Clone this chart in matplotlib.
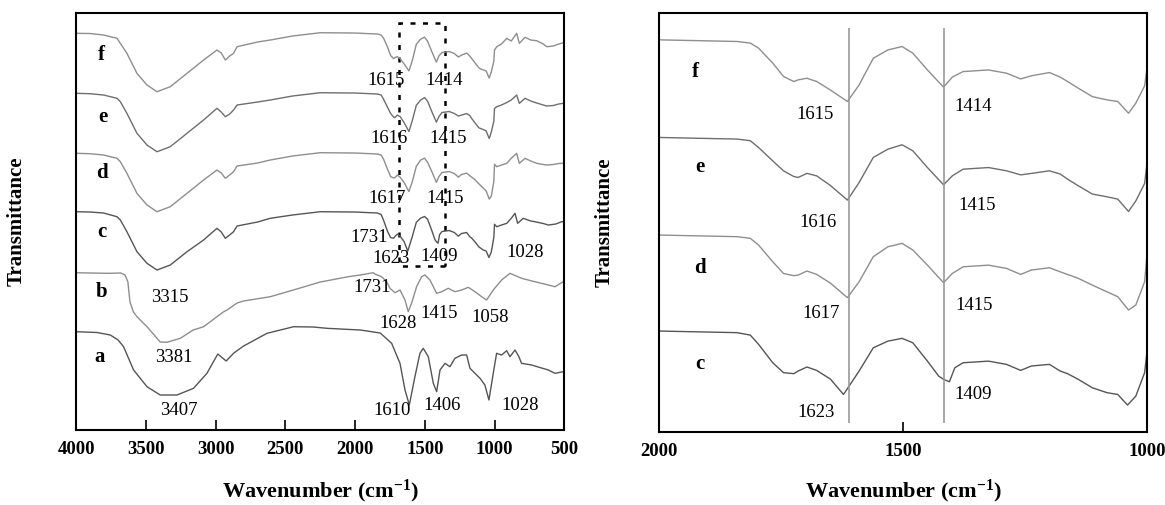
import numpy as np
import matplotlib
matplotlib.use("Agg")
import matplotlib.pyplot as plt
from matplotlib.patches import Rectangle

plt.rcParams['font.family'] = 'Liberation Serif'
plt.rcParams['mathtext.fontset'] = 'custom'
plt.rcParams['mathtext.rm'] = 'Liberation Serif'
plt.rcParams['mathtext.bf'] = 'Liberation Serif:bold'
plt.rcParams['mathtext.default'] = 'bf'

# FTIR spectra, transmittance in arbitrary (stacked) units
wn_fed = [4000, 3900, 3804, 3708, 3684, 3637, 3565, 3493, 3421, 3326,
          3206, 3087, 2991, 2960, 2931, 2900, 2872, 2847, 2700, 2609,
          2450, 2250, 2000, 1840, 1813, 1796, 1767, 1745, 1724, 1715,
          1697, 1677, 1649, 1614, 1590, 1561, 1531, 1502, 1480, 1450,
          1417, 1399, 1377, 1325, 1288, 1259, 1237, 1200, 1178, 1163,
          1141, 1112, 1082, 1060, 1038, 1023, 1005, 1000, 984, 950,
          912, 880, 841, 822, 781, 740, 697, 650, 625, 578,
          540, 506, 500]

t_f = [396.7, 396.5, 395.0, 391.7, 386.7, 376.7, 356.7, 345.0, 338.3, 343.3,
       356.7, 370.0, 380.0, 377.0, 370.0, 374.0, 376.7, 383.3, 388.0, 390.0,
       394.0, 397.3, 397.0, 396.0, 395.0, 391.9, 382.7, 374.5, 371.4, 372.4,
       373.4, 371.4, 366.2, 359.1, 369.3, 385.7, 390.8, 392.9, 388.8, 378.5,
       367.9, 374.1, 377.5, 378.5, 376.5, 373.0, 374.9, 376.9, 374.1, 371.4,
       367.3, 362.1, 360.1, 359.1, 351.9, 358.1, 368.7, 380.0, 383.3, 386.0,
       391.7, 389.0, 396.7, 386.7, 392.7, 390.0, 389.3, 386.0, 383.3, 384.0,
       386.0, 387.3, 387.3]

t_e = [336.7, 336.3, 335.0, 331.7, 328.3, 316.7, 296.7, 285.0, 278.3, 283.3,
       296.7, 310.0, 321.7, 318.0, 313.3, 316.0, 320.0, 325.0, 328.0, 330.0,
       334.0, 337.3, 337.0, 336.0, 335.0, 330.8, 322.6, 316.5, 313.0, 312.4,
       314.9, 313.4, 307.5, 298.5, 309.3, 324.7, 329.8, 332.5, 328.8, 318.5,
       307.9, 313.4, 317.5, 318.5, 316.5, 314.0, 314.9, 316.5, 314.5, 311.4,
       307.3, 302.2, 300.5, 299.1, 291.5, 298.0, 308.7, 321.6, 323.3, 325.0,
       327.5, 330.0, 335.0, 326.7, 331.7, 329.0, 327.0, 325.0, 324.0, 324.5,
       326.0, 326.7, 326.7]

t_d = [276.7, 276.3, 275.0, 271.7, 268.3, 256.7, 236.7, 225.0, 218.3, 223.3,
       236.7, 250.0, 260.0, 257.0, 251.7, 255.0, 258.3, 264.0, 267.0, 270.0,
       274.0, 277.3, 277.0, 276.0, 275.0, 270.8, 260.6, 253.4, 252.0, 252.4,
       254.9, 252.8, 247.5, 238.5, 248.3, 263.7, 269.8, 271.9, 267.8, 258.5,
       247.7, 253.4, 257.5, 258.5, 256.5, 252.8, 255.5, 256.9, 254.4, 252.8,
       250.4, 246.2, 242.1, 239.1, 230.9, 234.0, 248.3, 265.7, 263.3, 265.0,
       266.7, 271.7, 276.7, 266.7, 271.7, 269.0, 266.7, 265.5, 265.0, 265.5,
       266.5, 266.7, 266.7]

wn_c = [4000, 3900, 3804, 3708, 3684, 3637, 3565, 3493, 3421, 3326,
        3206, 3087, 2991, 2960, 2931, 2900, 2872, 2847, 2700, 2609,
        2450, 2250, 2000, 1840, 1813, 1796, 1767, 1745, 1724, 1715,
        1697, 1677, 1649, 1622, 1590, 1561, 1531, 1502, 1480, 1450,
        1427, 1417, 1405, 1394, 1377, 1325, 1288, 1259, 1237, 1200,
        1178, 1163, 1141, 1112, 1082, 1060, 1040, 1023, 1005, 1000,
        984, 950, 912, 880, 853, 834, 794, 740, 710, 650,
        614, 560, 519, 500]
t_c = [218.3, 218.0, 217.0, 213.3, 210.0, 198.3, 178.3, 166.7, 160.0, 165.0,
       178.3, 190.0, 201.7, 198.0, 191.7, 195.0, 198.3, 204.0, 208.0, 211.7,
       215.0, 218.3, 218.0, 217.0, 215.5, 209.8, 198.5, 192.4, 191.8, 193.4,
       195.9, 193.8, 188.5, 179.0, 193.4, 207.7, 211.8, 213.5, 210.8, 199.5,
       190.3, 188.3, 186.8, 195.4, 198.5, 199.5, 197.5, 193.8, 196.5, 197.5,
       193.4, 191.8, 188.3, 183.1, 180.1, 179.0, 172.5, 178.0, 192.4, 205.7,
       203.3, 205.0, 206.7, 211.7, 216.7, 206.7, 211.7, 209.0, 208.3, 206.5,
       205.0, 206.0, 208.3, 208.3]

wn_b = [4000, 3900, 3760, 3680, 3650, 3630, 3615, 3590, 3565, 3493,
        3421, 3398, 3350, 3254, 3161, 3087, 2946, 2919, 2847, 2800,
        2609, 2443, 2250, 2049, 1963, 1870, 1858, 1810, 1774, 1750,
        1714, 1678, 1642, 1619, 1595, 1559, 1523, 1499, 1463, 1415,
        1379, 1332, 1284, 1236, 1188, 1140, 1092, 1057, 1009, 949,
        889, 806, 710, 614, 566, 507, 500]
t_b = [157.3, 157.0, 156.7, 157.0, 155.0, 148.0, 128.0, 118.0, 113.3, 103.3,
       91.7, 88.0, 87.7, 91.7, 100.0, 103.3, 118.0, 120.0, 127.0, 129.0,
       133.3, 140.0, 148.0, 153.3, 155.0, 157.3, 156.0, 153.3, 148.3, 141.7,
       137.3, 140.0, 130.0, 118.3, 126.7, 143.3, 153.3, 155.0, 150.0, 136.7,
       138.3, 141.7, 138.3, 140.0, 142.7, 138.3, 133.3, 130.0, 140.0, 150.0,
       156.7, 151.7, 148.3, 145.0, 143.3, 148.3, 148.5]

wn_a = [4000, 3850, 3756, 3700, 3661, 3589, 3493, 3398, 3278, 3159,
        3063, 2985, 2925, 2870, 2800, 2632, 2441, 2300, 2202, 1963,
        1820, 1780, 1738, 1678, 1642, 1611, 1571, 1535, 1511, 1475,
        1439, 1415, 1391, 1355, 1320, 1284, 1236, 1200, 1176, 1140,
        1104, 1069, 1040, 1009, 985, 949, 913, 889, 853, 825,
        806, 734, 614, 566, 507, 500]
t_a = [98.3, 97.5, 95.0, 90.0, 83.3, 60.0, 43.3, 35.0, 35.0, 41.7,
       56.7, 76.0, 69.0, 77.0, 84.0, 96.7, 103.3, 103.0, 101.7, 100.0,
       97.0, 92.0, 86.7, 66.7, 40.0, 25.0, 53.3, 76.7, 81.7, 73.3,
       46.7, 38.3, 60.0, 66.7, 63.3, 71.7, 75.0, 75.0, 61.7, 56.7,
       51.7, 45.0, 30.0, 56.7, 76.7, 75.0, 79.3, 73.3, 80.0, 73.3,
       66.7, 65.0, 60.0, 56.7, 58.3, 58.3]

names = ['a', 'b', 'c', 'd', 'e', 'f']
wns = [wn_a, wn_b, wn_c, wn_fed, wn_fed, wn_fed]
trans = [t_a, t_b, t_c, t_d, t_e, t_f]
colors = ['#555555', '#8e8e8e', '#555555', '#8e8e8e', '#6e6e6e', '#8e8e8e']

# letter positions (left panel / right panel)
letter_left = {'f': (3818, 375), 'e': (3806, 313), 'd': (3818, 257),
               'c': (3818, 198), 'b': (3818, 138), 'a': (3830, 73)}
letter_right = {'f': (1925, 377), 'e': (1917, 319), 'd': (1917, 257), 'c': (1917, 198)}

# peak annotations
peaks_left = [('1615', 1781, 350), ('1414', 1360, 350),
              ('1616', 1757, 292), ('1415', 1336, 292),
              ('1617', 1772, 232), ('1415', 1351, 232),
              ('1731', 1901, 193), ('1623', 1743, 172), ('1409', 1399, 174),
              ('1028', 782, 178), ('3315', 3328, 133),
              ('1731', 1877, 143), ('1628', 1695, 107), ('1415', 1399, 117),
              ('1058', 1033, 113), ('3381', 3299, 73),
              ('3407', 3263, 20), ('1610', 1738, 20), ('1406', 1379, 25),
              ('1028', 818, 25)]
peaks_right = [('1615', 1680, 351), ('1414', 1357, 356),
               ('1616', 1675, 285), ('1415', 1349, 295),
               ('1617', 1668, 229), ('1415', 1354, 234),
               ('1623', 1679, 168), ('1409', 1357, 179)]
guide_lines = [1610, 1417]

fig = plt.figure(figsize=(11.65, 5.05), dpi=100)
ax1 = fig.add_axes([0.0655, 0.1485, 0.4188, 0.8263])
ax2 = fig.add_axes([0.5657, 0.1451, 0.4189, 0.8301])

# Left panel : full range
for n, x, y, c in zip(names, wns, trans, colors):
    ax1.plot(x, y, color=c, lw=1.0)
    ax1.text(*letter_left[n], n, fontsize=15, fontweight='bold', ha='center', va='center')
for s, x, y in peaks_left:
    ax1.text(x, y, s, fontsize=13.5, ha='center', va='center')
ax1.add_patch(Rectangle((1355, 164), 330, 243.3, fill=False, ec='k',
                        lw=1.8, ls=(0, (2, 3))))
ax1.set_xlim(4000, 500)
ax1.set_ylim(0, 417.3)
ax1.set_xticks([4000, 3500, 3000, 2500, 2000, 1500, 1000, 500])

# Right panel : zoom 2000-1000 on c-f
for n, x, y, c in zip(names[2:], wns[2:], trans[2:], colors[2:]):
    ax2.plot(x, y, color=c, lw=1.0)
    ax2.text(*letter_right[n], n, fontsize=15, fontweight='bold', ha='center', va='center')
for s, x, y in peaks_right:
    ax2.text(x, y, s, fontsize=13.5, ha='center', va='center')
ax2.vlines(guide_lines, 161.5, 404, color='#9a9a9a', lw=1.2)
ax2.set_xlim(2000, 1000)
ax2.set_ylim(156.1, 413.8)
ax2.set_xticks([2000, 1500, 1000])

for ax in (ax1, ax2):
    ax.set_yticks([])
    ax.tick_params(axis='x', direction='in', length=7, width=1.2, pad=8, labelsize=13.5)
    for lbl in ax.get_xticklabels():
        lbl.set_fontweight('bold')
    for sp in ax.spines.values():
        sp.set_linewidth(1.5)
    ax.set_xlabel('Wavenumber (cm$^{-1}$)', fontsize=16, fontweight='bold')
    ax.set_ylabel('Transmittance', fontsize=15, fontweight='bold')

ax1.xaxis.set_label_coords(0.5, -0.115)
ax2.xaxis.set_label_coords(0.5, -0.110)
ax1.yaxis.set_label_coords(-0.101, 0.5)
ax2.yaxis.set_label_coords(-0.092, 0.5)

fig.savefig('out.png', dpi=100)
